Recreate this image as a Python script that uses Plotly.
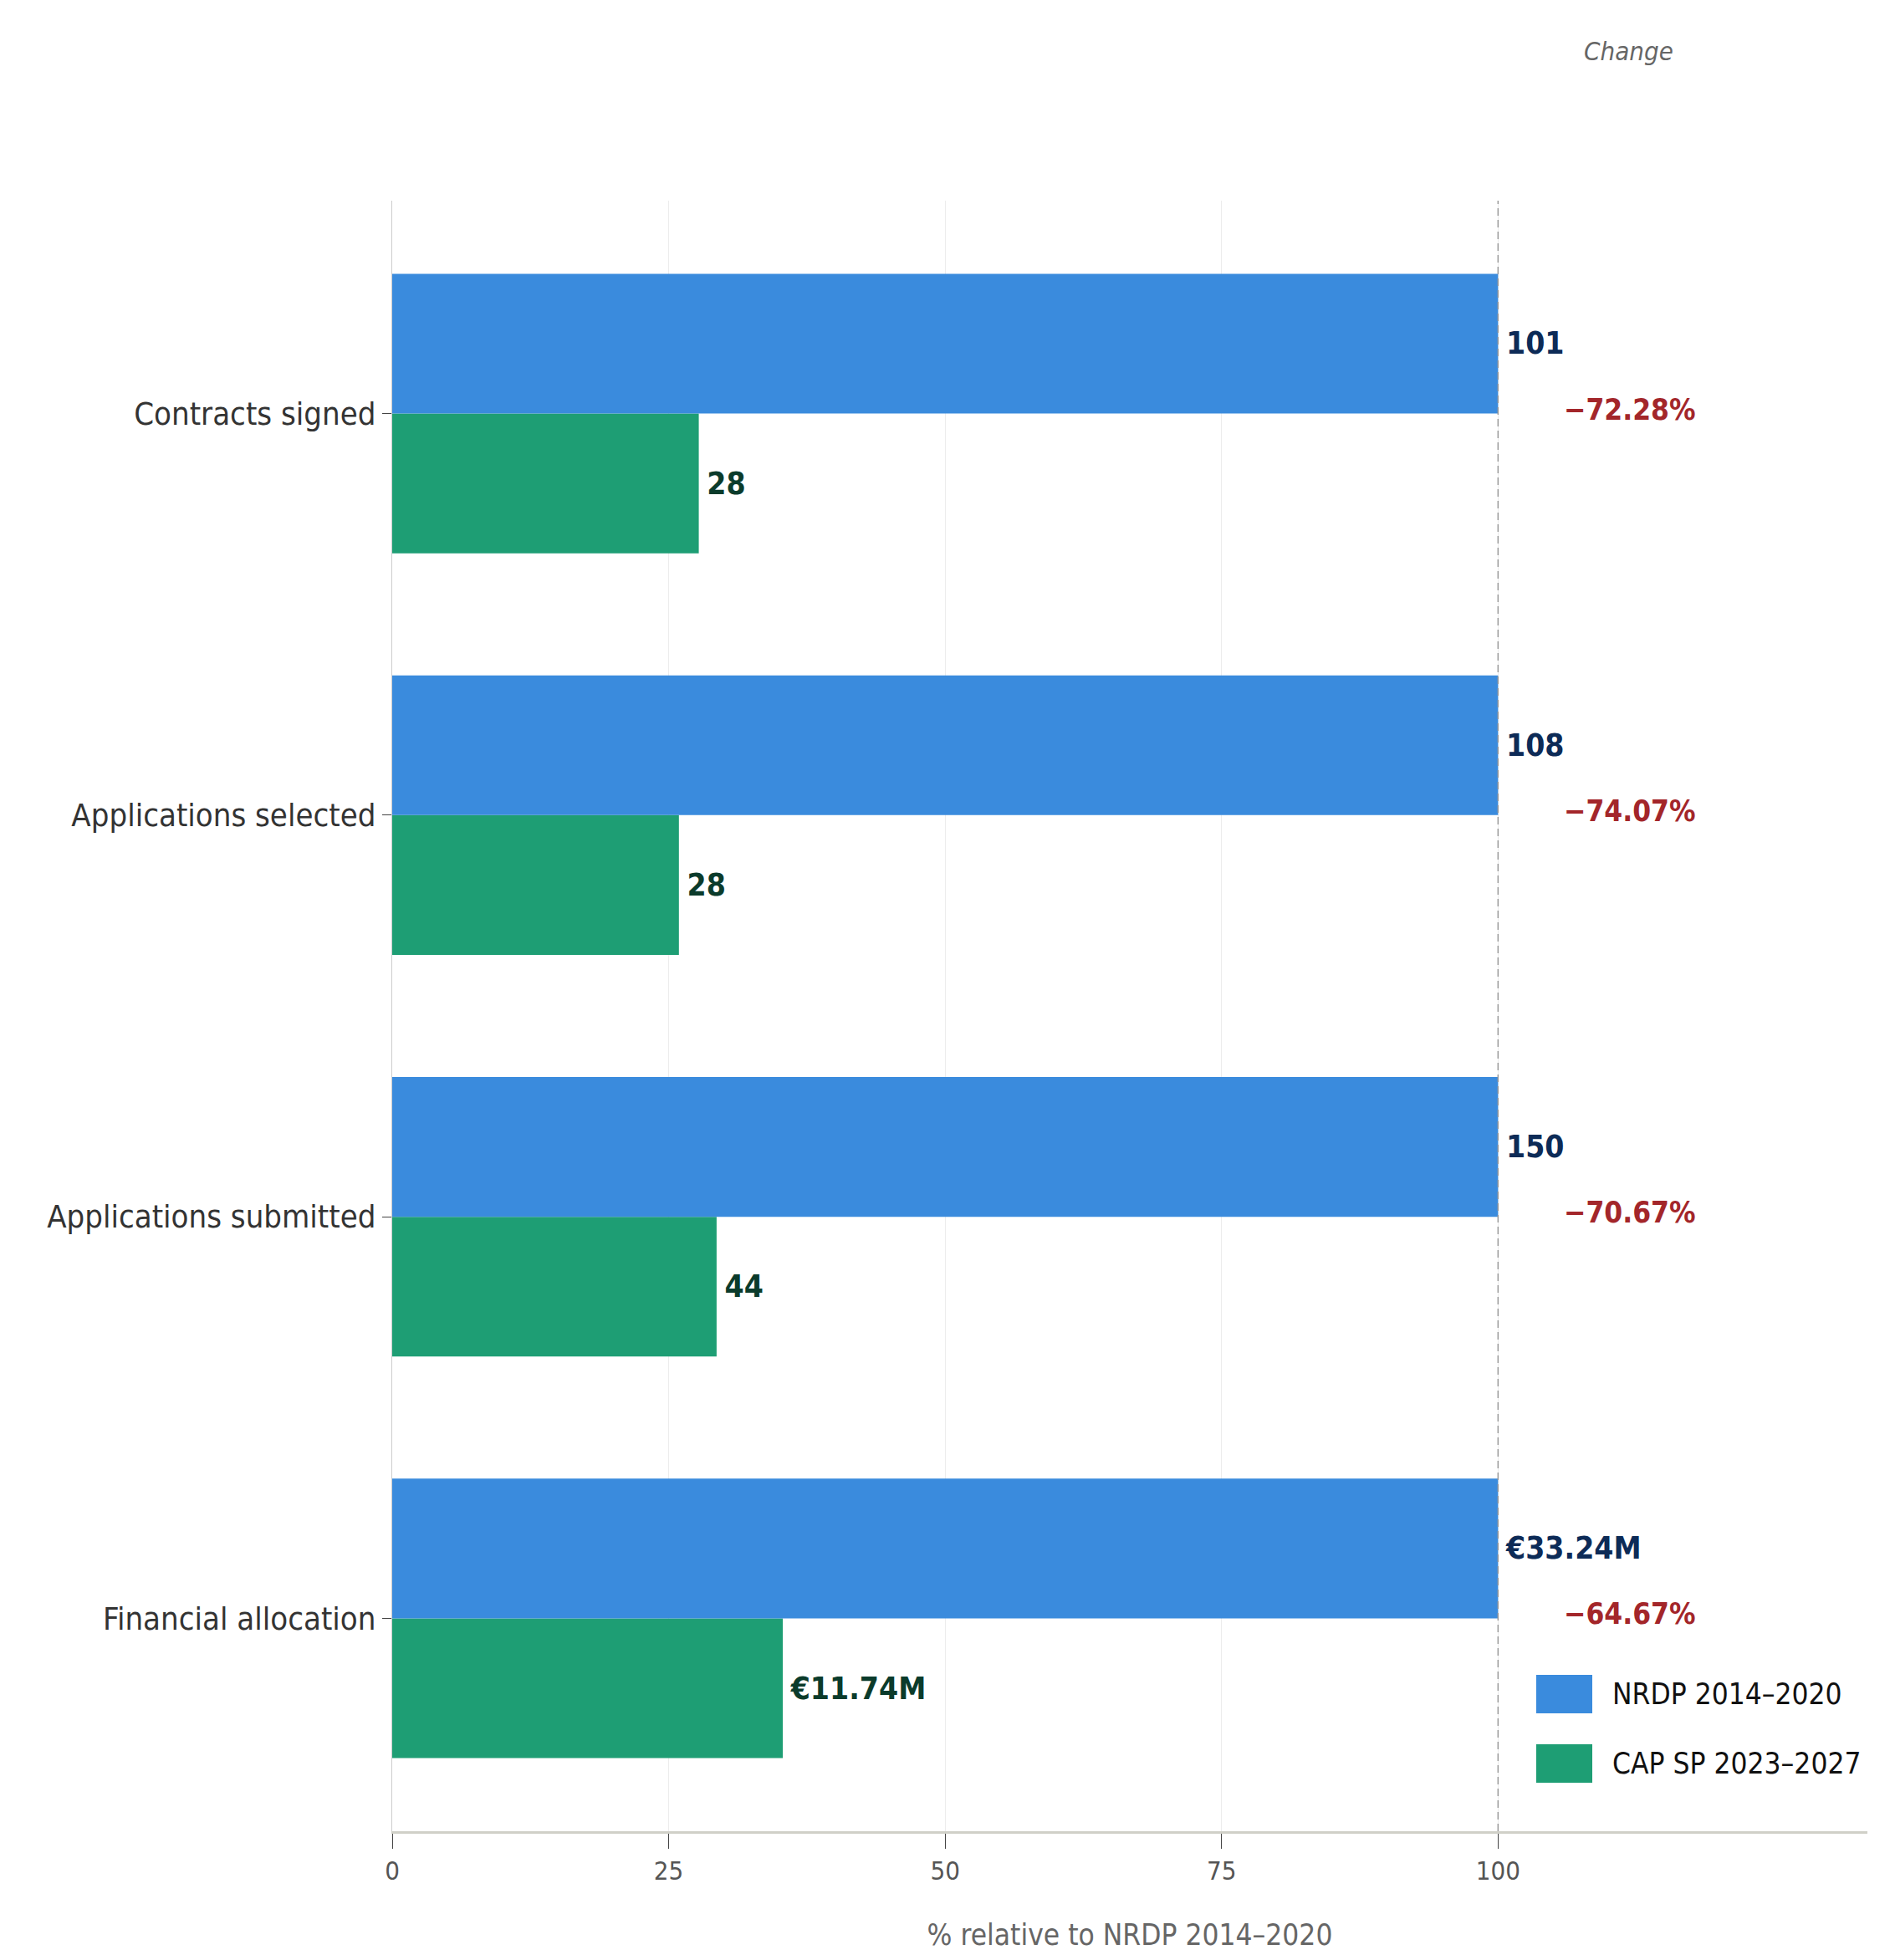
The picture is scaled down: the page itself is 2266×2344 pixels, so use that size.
import plotly.graph_objects as go

# ---- data ----
categories = ["Contracts signed", "Applications selected", "Applications submitted", "Financial allocation"]
nrdp_raw = [101, 108, 150, 33.24]
cap_raw = [28, 28, 44, 11.74]
nrdp_labels = ["101", "108", "150", "€33.24M"]
cap_labels = ["28", "28", "44", "€11.74M"]
change_labels = ["−72.28%", "−74.07%", "−70.67%", "−64.67%"]
x_ticks = [0, 25, 50, 75, 100]
series_names = ["NRDP 2014–2020", "CAP SP 2023–2027"]

nrdp_pct = [100.0 for _ in nrdp_raw]
cap_pct = [c / n * 100 for c, n in zip(cap_raw, nrdp_raw)]

FONT = "DejaVu Sans Condensed, DejaVu Sans"
BLUE = "#3a8bdd"
GREEN = "#1e9e74"
COLORS = [BLUE, GREEN]

fig = go.Figure()
fig.add_trace(go.Bar(
    y=categories, x=cap_pct, orientation="h", name=series_names[1],
    marker=dict(color=GREEN, line=dict(width=0)),
    text=["\u2009" + t for t in cap_labels], textposition="outside", cliponaxis=False,
    outsidetextfont=dict(family=FONT, size=37, color="#0b3b2b", weight="bold"),
    showlegend=False,
))
fig.add_trace(go.Bar(
    y=categories, x=nrdp_pct, orientation="h", name=series_names[0],
    marker=dict(color=BLUE, line=dict(width=0)),
    text=["\u2009" + t for t in nrdp_labels], textposition="outside", cliponaxis=False,
    outsidetextfont=dict(family=FONT, size=37, color="#0d2b57", weight="bold"),
    showlegend=False,
))

for cat, lab in zip(categories, change_labels):
    fig.add_annotation(x=111.9, y=cat, xref="x", yref="y", text=lab, showarrow=False,
                       xanchor="center", yanchor="middle",
                       font=dict(family=FONT, size=35, color="#a3262a", weight="bold"),
                       yshift=5)

fig.add_annotation(x=111.8, y=1.092, xref="x", yref="paper", text="Change", showarrow=False,
                   xanchor="center", yanchor="middle",
                   font=dict(family=FONT, size=31, color="#666666", style="italic"))

fig.add_shape(type="line", x0=100, x1=100, y0=0, y1=1, xref="x", yref="paper",
              line=dict(color="#9a9a9a", width=1.5, dash="9px,5px"), layer="above")

# legend (large swatches, as in the reference)
leg_x0, leg_x1, leg_tx = 0.7755, 0.8135, 0.826
leg_rows = [(0.0723, 0.0959), (0.0297, 0.0533)]
for name, col, (ya, yb) in zip(series_names, COLORS, leg_rows):
    fig.add_shape(type="rect", xref="paper", yref="paper", x0=leg_x0, x1=leg_x1, y0=ya, y1=yb,
                  fillcolor=col, line=dict(width=0))
    fig.add_annotation(x=leg_tx, y=(ya + yb) / 2, xref="paper", yref="paper", text=name,
                       showarrow=False, xanchor="left", yanchor="middle",
                       font=dict(family=FONT, size=35, color="#111111"))

fig.update_layout(
    width=2266, height=2344,
    margin=dict(l=461, r=41, t=232, b=162),
    paper_bgcolor="white", plot_bgcolor="white",
    barmode="group", bargap=0.304, bargroupgap=0,
    font=dict(family=FONT, color="#333333"),
    showlegend=False,
)
fig.update_xaxes(
    range=[0, 133.4], tickvals=x_ticks, ticktext=[str(v) for v in x_ticks],
    showgrid=True, gridcolor="#ececec", gridwidth=1, zeroline=False,
    showline=True, linecolor="#d0d0c8", linewidth=3,
    ticks="outside", ticklen=18, tickcolor="#444444", tickwidth=1,
    tickfont=dict(family=FONT, size=31, color="#555555"),
    title=dict(text="% relative to NRDP 2014–2020", font=dict(family=FONT, size=35, color="#666666"), standoff=48),
)
fig.update_yaxes(
    categoryorder="array", categoryarray=categories[::-1], range=[-0.53, 3.53],
    showgrid=False, zeroline=False,
    showline=True, linecolor="#cccccc", linewidth=1,
    ticks="outside", ticklen=11, tickcolor="#444444", tickwidth=1,
    tickfont=dict(family=FONT, size=38, color="#333333"),
)

fig.write_html("out.html")
